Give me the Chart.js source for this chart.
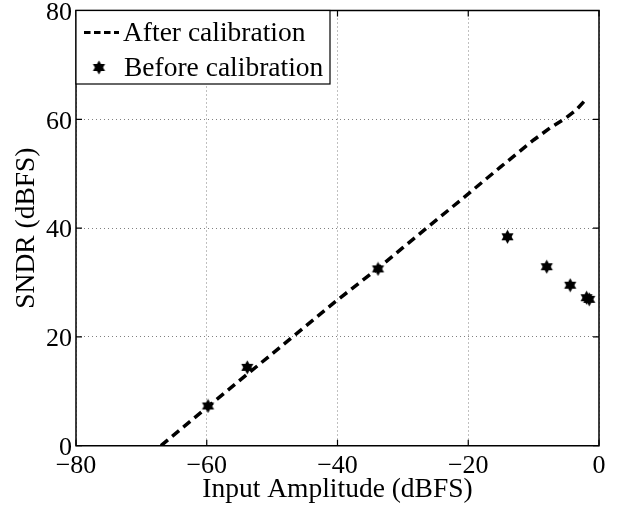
<!DOCTYPE html>
<html>
<head>
<meta charset="utf-8">
<script src="https://cdn.jsdelivr.net/npm/chart.js@4/dist/chart.umd.min.js"></script>
<style>
  html, body { margin: 0; padding: 0; background: #fff; }
  #wrap { width: 618px; height: 507px; position: relative; }
</style>
</head>
<body>
<div id="wrap"><canvas id="c" width="618" height="507"></canvas></div>
<script>
// ---- data ----
const afterX = [-67, -60, -50, -40, -33.8, -30, -20, -15, -10, -7.5, -5, -3.5, -2.2];
const afterY = [0, 7.0, 16.9, 26.8, 32.6, 36.4, 46.3, 51.3, 56.2, 58.4, 60.3, 61.7, 63.4];
const beforeX = [-59.8, -53.8, -33.8, -14.0, -8.0, -4.4, -1.9, -1.5];
const beforeY = [7.3, 14.4, 32.5, 38.4, 32.9, 29.5, 27.2, 26.9];
const xTicks = [-80, -60, -40, -20, 0];
const yTicks = [0, 20, 40, 60, 80];
const seriesLabels = ['After calibration', 'Before calibration'];
const xTitle = 'Input Amplitude (dBFS)';
const yTitle = 'SNDR (dBFS)';

const FONT = '"Liberation Serif", "Times New Roman", Times, serif';

// hexagram marker
function makeStar(size) {
  const c = document.createElement('canvas');
  c.width = size; c.height = size;
  const g = c.getContext('2d');
  const r = size / 2 - 0.5, cx = size / 2, cy = size / 2;
  g.fillStyle = '#000';
  [[-90, 30, 150], [90, 210, 330]].forEach(tri => {
    g.beginPath();
    tri.forEach((a, i) => {
      const rad = a * Math.PI / 180;
      const x = cx + r * Math.cos(rad), y = cy + r * Math.sin(rad);
      if (i === 0) g.moveTo(x, y); else g.lineTo(x, y);
    });
    g.closePath();
    g.fill();
  });
  return c;
}
const star = makeStar(15);

const minus = v => (v < 0 ? '\u2212' + Math.abs(v) : String(v));

const boxPlugin = {
  id: 'boxPlugin',
  afterDatasetsDraw(chart) {
    const { ctx, chartArea: a, scales } = chart;
    ctx.save();
    ctx.strokeStyle = '#000';
    ctx.lineWidth = 1.5;
    ctx.beginPath();
    ctx.rect(a.left, a.top, a.right - a.left, a.bottom - a.top);
    ctx.stroke();
    ctx.lineWidth = 1.2;
    const tl = 6;
    ctx.beginPath();
    xTicks.forEach(v => {
      const x = scales.x.getPixelForValue(v);
      ctx.moveTo(x, a.bottom); ctx.lineTo(x, a.bottom - tl);
      ctx.moveTo(x, a.top); ctx.lineTo(x, a.top + tl);
    });
    yTicks.forEach(v => {
      const y = scales.y.getPixelForValue(v);
      ctx.moveTo(a.left, y); ctx.lineTo(a.left + tl, y);
      ctx.moveTo(a.right, y); ctx.lineTo(a.right - tl, y);
    });
    ctx.stroke();

    // legend
    const lx = a.left, ly = a.top, lw = 254, lh = 73.5;
    ctx.fillStyle = '#fff';
    ctx.fillRect(lx, ly, lw, lh);
    ctx.lineWidth = 1.2;
    ctx.strokeRect(lx, ly, lw, lh);
    ctx.font = '27.5px ' + FONT;
    ctx.fillStyle = '#000';
    ctx.textBaseline = 'middle';
    ctx.textAlign = 'left';
    const y1 = ly + 22, y2 = ly + 57;
    ctx.setLineDash([6.5, 3.5]);
    ctx.lineWidth = 3;
    ctx.beginPath();
    ctx.moveTo(lx + 8, y1); ctx.lineTo(lx + 43, y1);
    ctx.stroke();
    ctx.setLineDash([]);
    ctx.fillText(seriesLabels[0], lx + 47, y1 + 1);
    ctx.drawImage(star, lx + 23 - 7.5, y2 - 7.5);
    ctx.fillText(seriesLabels[1], lx + 48, y2 + 1);
    ctx.restore();
  }
};

new Chart(document.getElementById('c'), {
  type: 'scatter',
  data: {
    datasets: [
      {
        label: seriesLabels[0],
        data: afterX.map((x, i) => ({ x, y: afterY[i] })),
        showLine: true,
        borderColor: '#000',
        borderWidth: 3.5,
        borderDash: [9, 5.5],
        pointRadius: 0,
        fill: false,
        tension: 0,
        order: 2
      },
      {
        label: seriesLabels[1],
        data: beforeX.map((x, i) => ({ x, y: beforeY[i] })),
        showLine: false,
        pointStyle: star,
        pointRadius: 7,
        order: 1
      }
    ]
  },
  options: {
    responsive: false,
    animation: false,
    devicePixelRatio: 1,
    layout: { padding: { top: 10.5, right: 19, left: 0, bottom: 0 } },
    plugins: { legend: { display: false }, tooltip: { enabled: false } },
    scales: {
      x: {
        type: 'linear', min: -80, max: 0,
        afterBuildTicks: s => { s.ticks = xTicks.map(v => ({ value: v })); },
        afterFit: s => { s.height = 61.3; s.paddingLeft = 0; s.paddingRight = 0; },
        ticks: { callback: v => minus(v), color: '#000', font: { family: FONT, size: 26 }, padding: 4.5, maxRotation: 0, autoSkip: false },
        grid: { color: '#808080', lineWidth: 1, drawTicks: false },
        border: { display: false, dash: [1, 3] },
        title: { display: true, text: xTitle, color: '#000', font: { family: FONT, size: 27.5 }, padding: { top: 0, bottom: 1 } }
      },
      y: {
        type: 'linear', min: 0, max: 80,
        afterBuildTicks: s => { s.ticks = yTicks.map(v => ({ value: v })); },
        afterFit: s => { s.width = 76; s.paddingTop = 0; s.paddingBottom = 0; },
        ticks: { callback: v => minus(v), color: '#000', font: { family: FONT, size: 26 }, padding: 4, labelOffset: 2.5, autoSkip: false },
        grid: { color: '#808080', lineWidth: 1, drawTicks: false },
        border: { display: false, dash: [1, 3] },
        title: { display: true, text: yTitle, color: '#000', font: { family: FONT, size: 27.5 }, padding: { top: 10, bottom: 0 } }
      }
    }
  },
  plugins: [boxPlugin]
});
</script>
</body>
</html>
